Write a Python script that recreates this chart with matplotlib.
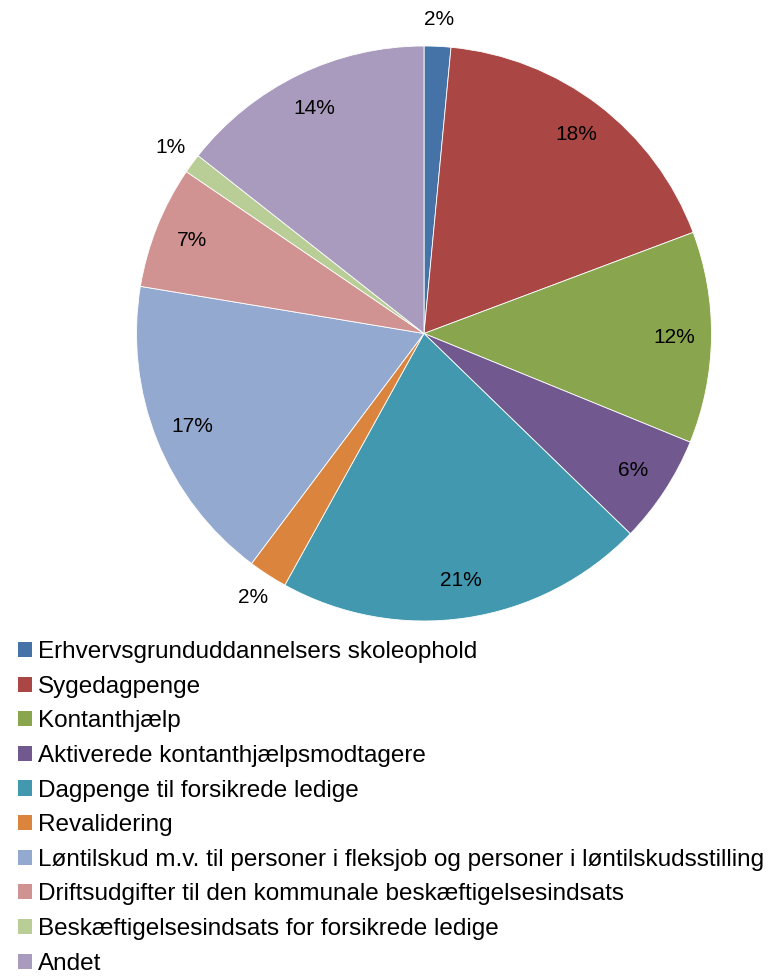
import matplotlib.pyplot as plt
from matplotlib.patches import Patch
import numpy as np

plt.rcParams['font.family'] = ['Liberation Sans', 'DejaVu Sans']

categories = ['Erhvervsgrunduddannelsers skoleophold',
              'Sygedagpenge',
              'Kontanthjælp',
              'Aktiverede kontanthjælpsmodtagere',
              'Dagpenge til forsikrede ledige',
              'Revalidering',
              'Løntilskud m.v. til personer i fleksjob og personer i løntilskudsstilling',
              'Driftsudgifter til den kommunale beskæftigelsesindsats',
              'Beskæftigelsesindsats for forsikrede ledige',
              'Andet']
shares = [1.5, 17.8, 11.9, 6.1, 20.8, 2.2, 17.4, 6.9, 1.1, 14.4]
colors = ['#4572A7', '#AA4643', '#89A54E', '#71588F', '#4198AF',
          '#DB843D', '#93A9CF', '#D19392', '#B9CD96', '#A99BBD']

fig = plt.figure(figsize=(7.75, 9.76), dpi=100)
W, H = 775, 976
cx, cy, r = 424, 333.5, 287.5
ax = fig.add_axes([(cx - r) / W, (H - cy - r) / H, 2 * r / W, 2 * r / H])

wedges, _ = ax.pie(shares, colors=colors, startangle=90, counterclock=False,
                   radius=1, wedgeprops=dict(edgecolor='white', linewidth=0.6))
ax.set_xlim(-1, 1)
ax.set_ylim(-1, 1)
ax.set_aspect('equal')
ax.axis('off')

# percent labels, small slices outside
for w, v in zip(wedges, shares):
    ang = np.deg2rad((w.theta1 + w.theta2) / 2)
    d = 0.87 if v > 4 else 1.095
    ax.text(d * np.cos(ang), d * np.sin(ang), '%d%%' % round(v),
            ha='center', va='center', fontsize=15, clip_on=False)

handles = [Patch(facecolor=c, edgecolor='none') for c in colors]
fig.legend(handles, categories, loc='upper left', bbox_to_anchor=(18 / W, 1 - 641 / H),
           frameon=False, fontsize=17.5, handlelength=0.58, handleheight=0.58,
           handletextpad=0.25, labelspacing=0.52, borderaxespad=0, borderpad=0)

fig.savefig('out.png', dpi=100)
